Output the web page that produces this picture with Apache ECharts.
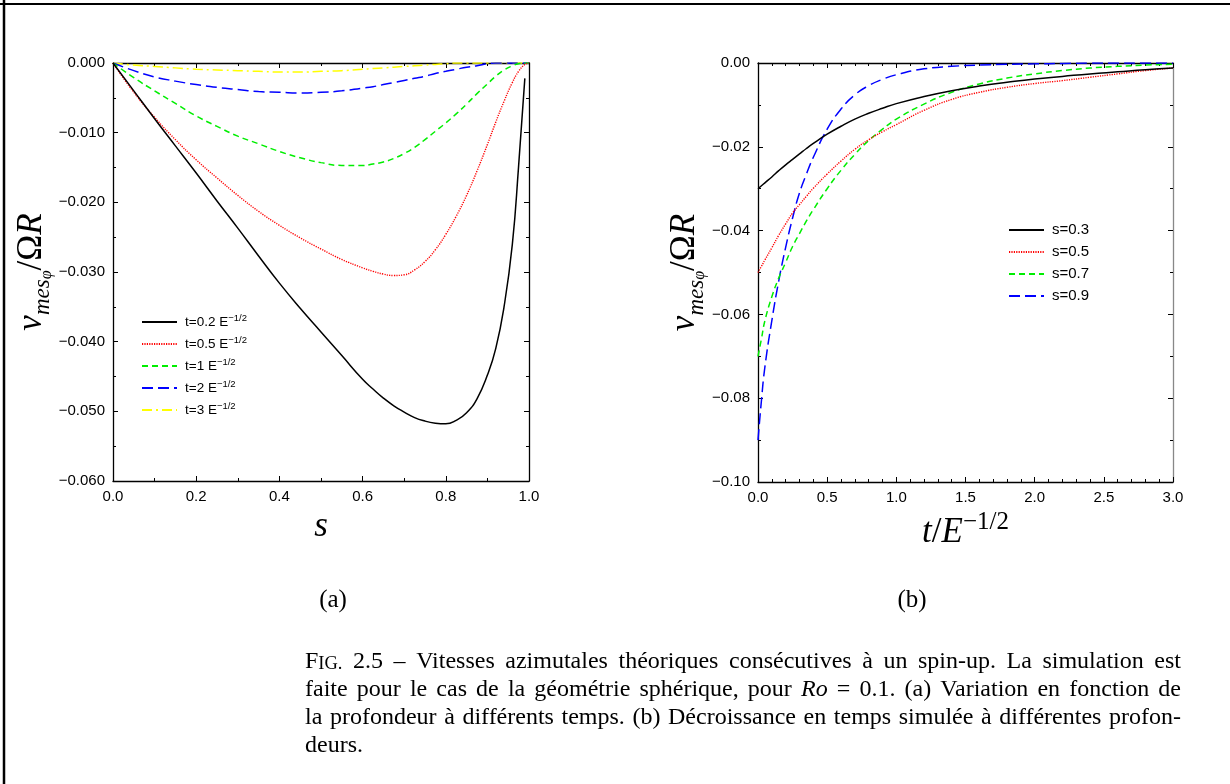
<!DOCTYPE html>
<html>
<head>
<meta charset="utf-8">
<script src="https://cdn.jsdelivr.net/npm/echarts@6/dist/echarts.min.js"></script>
<style>
  html, body { margin: 0; padding: 0; background: #fff; }
  #chart { width: 1230px; height: 784px; }
</style>
</head>
<body>
<div id="chart"></div>
<script>
// ---- (a) profile vs depth s, at several times ----
const sGrid = [0, 0.05, 0.1, 0.15, 0.2, 0.25, 0.3, 0.35, 0.4, 0.45, 0.5, 0.55,
  0.6, 0.625, 0.65, 0.675, 0.7, 0.725, 0.75, 0.775, 0.8, 0.825, 0.85, 0.875, 0.9,
  0.92, 0.94, 0.96, 0.975, 0.99, 1.0];
const vT02 = [0, -0.0040, -0.0080, -0.0119, -0.0158, -0.0198, -0.0237, -0.0277, -0.0316, -0.0352, -0.0386, -0.0420,
  -0.0454, -0.0468, -0.0481, -0.0492, -0.0501, -0.0509, -0.0514, -0.0517, -0.0518, -0.0513, -0.0502, -0.0482, -0.0448,
  -0.0410, -0.0350, -0.0260, -0.0148, -0.0022, null];
const vT05 = [0, -0.0042, -0.0078, -0.0110, -0.0139, -0.0165, -0.0190, -0.0213, -0.0233, -0.0251, -0.0267, -0.0282,
  -0.0294, -0.0299, -0.0303, -0.0305, -0.0304, -0.0297, -0.0285, -0.0268, -0.0246, -0.0220, -0.0190, -0.0155, -0.0117,
  -0.0085, -0.0055, -0.0028, -0.0012, -0.0002, 0];
const vT1 = [0, -0.0021, -0.0040, -0.0058, -0.0076, -0.0091, -0.0105, -0.0116, -0.0127, -0.0136, -0.0143, -0.0147,
  -0.0147, -0.0145, -0.0142, -0.0137, -0.0130, -0.0121, -0.0110, -0.0098, -0.0086, -0.0073, -0.0059, -0.0044, -0.0030,
  -0.0019, -0.0010, -0.0004, -0.0001, 0, 0];
const vT2 = [0, -0.0011, -0.0020, -0.0026, -0.0031, -0.0035, -0.0038, -0.0041, -0.0042, -0.0043, -0.0042, -0.0040,
  -0.0036, -0.0034, -0.0031, -0.0028, -0.0025, -0.0022, -0.0019, -0.0015, -0.0012, -0.0009, -0.0006, -0.0004, -0.0001,
  0, 0, 0, 0, 0, 0];
const vT3 = [0, -0.0003, -0.0005, -0.0007, -0.0009, -0.0010, -0.0011, -0.0012, -0.0013, -0.0013, -0.0012, -0.0011,
  -0.0009, -0.0008, -0.0007, -0.0006, -0.0005, -0.0004, -0.0003, -0.0002, -0.0001, 0, 0, 0, 0,
  0, 0, 0, 0, 0, 0];
const namesA = ['t=0.2', 't=0.5', 't=1', 't=2', 't=3'];

// ---- (b) decay in time at several depths ----
const tGrid = [0, 0.025, 0.05, 0.1, 0.15, 0.2, 0.25, 0.3, 0.35, 0.4, 0.5, 0.6, 0.7, 0.8, 0.9, 1.0, 1.2, 1.4, 1.6, 1.8, 2.0, 2.2, 2.4, 2.6, 2.8, 3.0];
const vS03 = [-0.0300, -0.0293, -0.0286, -0.0272, -0.0257, -0.0243, -0.0230, -0.0217, -0.0204, -0.0192, -0.0170, -0.0151, -0.0134, -0.0120, -0.0108, -0.0097, -0.0080, -0.0066, -0.0055, -0.0046, -0.0038, -0.0032, -0.0026, -0.0021, -0.0016, -0.0012];
const vS05 = [-0.0500, -0.0485, -0.0470, -0.0441, -0.0411, -0.0384, -0.0358, -0.0338, -0.0318, -0.0299, -0.0265, -0.0234, -0.0206, -0.0183, -0.0164, -0.0147, -0.0113, -0.0087, -0.0070, -0.0058, -0.0049, -0.0042, -0.0034, -0.0026, -0.0018, -0.0012];
const vS07 = [-0.0700, -0.0658, -0.0615, -0.0558, -0.0513, -0.0476, -0.0438, -0.0407, -0.0377, -0.0350, -0.0300, -0.0256, -0.0218, -0.0185, -0.0158, -0.0134, -0.0098, -0.0070, -0.0050, -0.0036, -0.0026, -0.0018, -0.0012, -0.0008, -0.0005, -0.0003];
const vS09 = [-0.0900, -0.0805, -0.0725, -0.0615, -0.0520, -0.0440, -0.0370, -0.0310, -0.0265, -0.0225, -0.0158, -0.0110, -0.0076, -0.0054, -0.0039, -0.0028, -0.0014, -0.0008, -0.0005, -0.0003, -0.0002, -0.0001, 0, 0, 0, 0];
const namesB = ['s=0.3', 's=0.5', 's=0.7', 's=0.9'];

const captionLines = [
  'F{sc|IG.} 2.5 – Vitesses azimutales théoriques consécutives à un spin-up. La simulation est',
  'faite pour le cas de la géométrie sphérique, pour {it|Ro} = 0.1. (a) Variation en fonction de',
  'la profondeur à différents temps. (b) Décroissance en temps simulée à différentes profon-',
  'deurs.'
];

const sansFont = '"Liberation Sans", Arial, sans-serif';
const serifFont = '"Liberation Serif", "DejaVu Serif", serif';

const lineStyles = [
  { color: '#000000', width: 1.5, type: 'solid' },
  { color: '#ff0000', width: 1.4, type: [1.2, 1.2] },
  { color: '#00ee00', width: 1.5, type: [6, 4] },
  { color: '#0000ff', width: 1.5, type: [11, 5] },
  { color: '#ffff00', width: 1.5, type: [10, 4, 2, 4] }
];

function pairs(xs, ys) {
  return xs.map((x, i) => [x, ys[i]]).filter(p => p[1] !== null);
}

function axis(gridIndex, position, min, max, interval, minorSplit, fmt, lineColor) {
  return {
    type: 'value', gridIndex, position, min, max, interval,
    axisLine: { show: true, onZero: false, lineStyle: { color: lineColor || '#000', width: 1.3 } },
    axisTick: { show: true, inside: true, length: 5, lineStyle: { color: '#000', width: 1 } },
    minorTick: { show: true, splitNumber: minorSplit, length: 3, lineStyle: { color: '#000', width: 1 } },
    splitLine: { show: false },
    axisLabel: {
      show: !!fmt, formatter: fmt, color: '#000', fontFamily: sansFont, fontSize: 15,
      margin: 8, showMinLabel: true, showMaxLabel: true
    }
  };
}

const fmtA = v => v === 0 ? '0.000' : '\u2212' + (-v).toFixed(3);
const fmtB = v => v === 0 ? '0.00' : '\u2212' + (-v).toFixed(2);
const fmtX = v => v.toFixed(1);

const mathRich = {
  v: { fontFamily: serifFont, fontStyle: 'italic', fontSize: 35, lineHeight: 46 },
  sub: { fontFamily: serifFont, fontStyle: 'italic', fontSize: 23, lineHeight: 31, verticalAlign: 'bottom' },
  ss: { fontFamily: serifFont, fontStyle: 'italic', fontSize: 16, lineHeight: 19, verticalAlign: 'bottom' },
  up: { fontFamily: serifFont, fontSize: 35, lineHeight: 46 },
  sup: { fontFamily: serifFont, fontSize: 25, lineHeight: 28, verticalAlign: 'top' }
};
const yName = '{v|v}{sub|mes}{ss|φ}{up|/Ω}{v|R}';

function yAxisMain(gridIndex, min, max, interval, fmt) {
  const a = axis(gridIndex, 'left', min, max, interval, 2, fmt);
  a.name = yName;
  a.nameLocation = 'middle';
  a.nameRotate = 90;
  a.nameGap = 47;
  a.nameTextStyle = { color: '#000', rich: mathRich };
  return a;
}

const xA = axis(0, 'bottom', 0, 1, 0.2, 2, fmtX);
xA.name = '{v|s}';
xA.nameLocation = 'middle';
xA.nameGap = 15;
xA.nameTextStyle = { color: '#000', rich: mathRich };

const xB = axis(1, 'bottom', 0, 3, 0.5, 5, fmtX);
xB.name = '{v|t}{up|/}{v|E}{sup|\u22121/2}';
xB.nameLocation = 'middle';
xB.nameGap = 15;
xB.nameTextStyle = { color: '#000', rich: mathRich };

function lineSeries(names, xs, list, axisIndex) {
  return list.map((vals, i) => ({
    name: names[i], type: 'line', xAxisIndex: axisIndex, yAxisIndex: axisIndex,
    data: pairs(xs, vals), symbol: 'none', smooth: 0.5,
    lineStyle: lineStyles[i], itemStyle: { color: lineStyles[i].color }, z: 10 - i
  }));
}
const seriesA = lineSeries(namesA, sGrid, [vT02, vT05, vT1, vT2, vT3], 0);
const seriesB = lineSeries(namesB, tGrid, [vS03, vS05, vS07, vS09], 2);

// caption, justified word by word
const capStyle = {
  fontSize: 24, fontFamily: serifFont, fill: '#000',
  rich: {
    sc: { fontSize: 18.5, fontFamily: serifFont, verticalAlign: 'bottom' },
    it: { fontSize: 24, fontFamily: serifFont, fontStyle: 'italic' }
  }
};
function textWidth(str) {
  const el = new echarts.graphic.Text({ style: Object.assign({}, capStyle, { text: str }) });
  return el.getBoundingRect().width;
}
const capLeft = 305, capRight = 1181, capTop = 662, capPitch = 28;
const captionGraphics = [];
captionLines.forEach((line, li) => {
  const words = line.split(' ');
  const widths = words.map(textWidth);
  const total = widths.reduce((a, b) => a + b, 0);
  const last = li === captionLines.length - 1;
  const gap = last ? 6 : (capRight - capLeft - total) / (words.length - 1);
  let x = capLeft;
  words.forEach((w, i) => {
    captionGraphics.push({
      type: 'text', x: x, y: capTop + li * capPitch, silent: true,
      style: Object.assign({}, capStyle, { text: w, verticalAlign: 'middle' })
    });
    x += widths[i] + gap;
  });
});

const legendBase = {
  orient: 'vertical', padding: 0, itemWidth: 35, itemHeight: 14, itemGap: 4,
  itemStyle: { color: 'transparent', borderColor: 'transparent', borderWidth: 0, opacity: 0 }
};

const chart = echarts.init(document.getElementById('chart'));
chart.setOption({
  animation: false,
  backgroundColor: '#fff',
  textStyle: { fontFamily: sansFont },
  grid: [
    { left: 113, top: 63, width: 416, height: 418 },
    { left: 758, top: 63, width: 415, height: 419 }
  ],
  xAxis: [
    xA,
    axis(0, 'top', 0, 1, 0.2, 2, null),
    xB,
    axis(1, 'top', 0, 3, 0.5, 5, null)
  ],
  yAxis: [
    yAxisMain(0, -0.06, 0, 0.01, fmtA),
    axis(0, 'right', -0.06, 0, 0.01, 2, null),
    yAxisMain(1, -0.1, 0, 0.02, fmtB),
    axis(1, 'right', -0.1, 0, 0.02, 2, null, '#888')
  ],
  legend: [
    Object.assign({}, legendBase, {
      data: namesA, left: 141, top: 313,
      formatter: n => n + ' E{sup|\u22121/2}',
      textStyle: {
        color: '#000', fontFamily: sansFont, fontSize: 13.5, lineHeight: 18, padding: [0, 0, 0, 3],
        rich: { sup: { fontFamily: sansFont, fontSize: 9.5, lineHeight: 11, verticalAlign: 'top' } }
      }
    }),
    Object.assign({}, legendBase, {
      data: namesB, left: 1008, top: 221,
      textStyle: { color: '#000', fontFamily: sansFont, fontSize: 15, lineHeight: 18, padding: [0, 0, 0, 3] }
    })
  ],
  series: seriesA.concat(seriesB),
  graphic: [
    { type: 'line', silent: true, shape: { x1: 0, y1: 4, x2: 1230, y2: 4 }, style: { stroke: '#000', lineWidth: 2 } },
    { type: 'line', silent: true, shape: { x1: 4, y1: 0, x2: 4, y2: 784 }, style: { stroke: '#000', lineWidth: 2.5 } },
    { type: 'text', x: 333, y: 600, silent: true, style: { text: '(a)', fontSize: 25, fontFamily: serifFont, fill: '#000', align: 'center', verticalAlign: 'middle' } },
    { type: 'text', x: 912, y: 600, silent: true, style: { text: '(b)', fontSize: 25, fontFamily: serifFont, fill: '#000', align: 'center', verticalAlign: 'middle' } }
  ].concat(captionGraphics)
});
</script>
</body>
</html>
